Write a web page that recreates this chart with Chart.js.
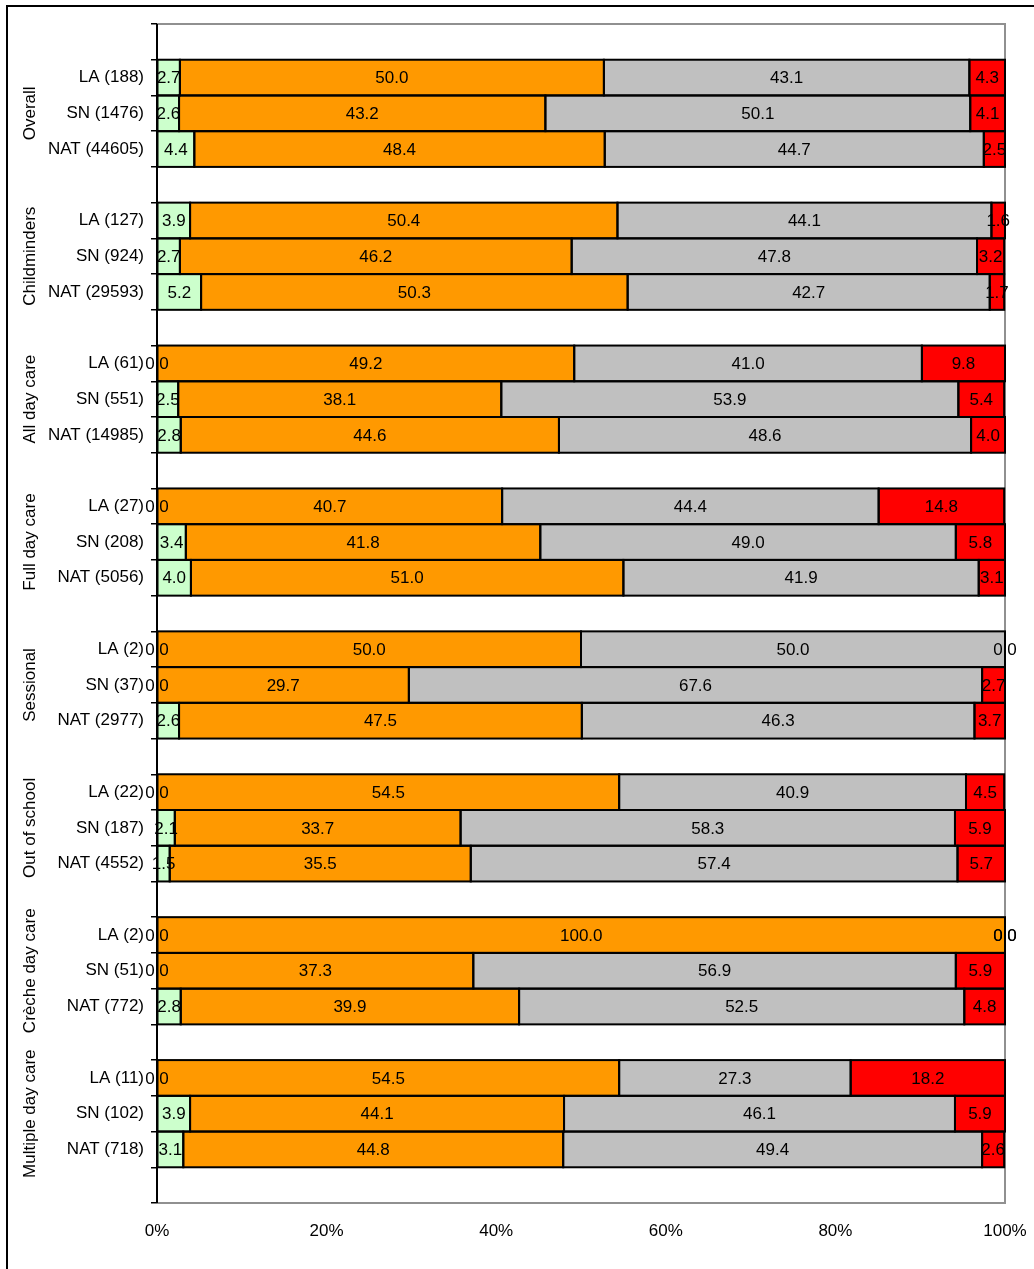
<!DOCTYPE html>
<html lang="en">
<head>
<meta charset="UTF-8">
<title>Inspection judgements by provider type</title>
<script src="https://cdn.jsdelivr.net/npm/chart.js"></script>
<style>
    body { margin: 0; background: #fff; }
    #wrap { width: 1034px; height: 1269px; }
</style>
</head>
<body>
<div id="wrap"><canvas id="chart" width="1034" height="1269"></canvas></div>
<script>
    // groups and their rows (LA / SN / NAT with sample sizes)
    const groups = ["Overall", "Childminders", "All day care", "Full day care",
        "Sessional", "Out of school", "Crèche day care", "Multiple day care"];
    const rowLabels = [
        ["LA (188)", "SN (1476)", "NAT (44605)"],
        ["LA (127)", "SN (924)", "NAT (29593)"],
        ["LA (61)", "SN (551)", "NAT (14985)"],
        ["LA (27)", "SN (208)", "NAT (5056)"],
        ["LA (2)", "SN (37)", "NAT (2977)"],
        ["LA (22)", "SN (187)", "NAT (4552)"],
        ["LA (2)", "SN (51)", "NAT (772)"],
        ["LA (11)", "SN (102)", "NAT (718)"]
    ];
    // percentages per row, in the same order as rowLabels
    const green = [2.7, 2.6, 4.4, 3.9, 2.7, 5.2, 0, 2.5, 2.8, 0, 3.4, 4.0,
        0, 0, 2.6, 0, 2.1, 1.5, 0, 0, 2.8, 0, 3.9, 3.1];
    const orange = [50.0, 43.2, 48.4, 50.4, 46.2, 50.3, 49.2, 38.1, 44.6, 40.7, 41.8, 51.0,
        50.0, 29.7, 47.5, 54.5, 33.7, 35.5, 100.0, 37.3, 39.9, 54.5, 44.1, 44.8];
    const grey = [43.1, 50.1, 44.7, 44.1, 47.8, 42.7, 41.0, 53.9, 48.6, 44.4, 49.0, 41.9,
        50.0, 67.6, 46.3, 40.9, 58.3, 57.4, 0, 56.9, 52.5, 27.3, 46.1, 49.4];
    const red = [4.3, 4.1, 2.5, 1.6, 3.2, 1.7, 9.8, 5.4, 4.0, 14.8, 5.8, 3.1,
        0, 2.7, 3.7, 4.5, 5.9, 5.7, 0, 5.9, 4.8, 18.2, 5.9, 2.6];
    const xTicks = [0, 20, 40, 60, 80, 100];

    // build category list with a blank row before each group and one at the end
    const labels = [];
    const slot = [];
    groups.forEach((g, gi) => {
        labels.push("");
        slot.push(-1);
        rowLabels[gi].forEach((r, ri) => {
            labels.push(r);
            slot.push(gi * 3 + ri);
        });
    });
    labels.push("");
    slot.push(-1);
    const spread = arr => slot.map(i => i < 0 ? null : arr[i]);

    const FONT = "'Liberation Sans', Arial, sans-serif";

    const outlinePlugin = {
        id: "outline",
        beforeDraw(chart) {
            const c = chart.ctx;
            c.save();
            c.fillStyle = "#fff";
            c.fillRect(0, 0, chart.width, chart.height);
            c.strokeStyle = "#000";
            c.lineWidth = 2;
            c.strokeRect(7, 6, chart.width + 20, chart.height + 20);
            c.restore();
        },
        beforeDatasetsDraw(chart) {
            const a = chart.chartArea;
            const c = chart.ctx;
            c.save();
            c.strokeStyle = "#909090";
            c.lineWidth = 2;
            c.beginPath();
            c.moveTo(a.left, a.top);
            c.lineTo(a.right, a.top);
            c.lineTo(a.right, a.bottom);
            c.lineTo(a.left, a.bottom);
            c.stroke();
            c.restore();
        },
        afterDatasetsDraw(chart) {
            const c = chart.ctx;
            const a = chart.chartArea;
            c.save();
            // segment outlines
            c.strokeStyle = "#000";
            c.lineWidth = 2;
            chart.data.datasets.forEach((ds, di) => {
                chart.getDatasetMeta(di).data.forEach((el, i) => {
                    const v = ds.data[i];
                    if (v === null || v === 0) return;
                    const x0 = Math.min(el.base, el.x), x1 = Math.min(Math.max(el.base, el.x), a.right);
                    c.strokeRect(x0, el.y - el.height / 2, x1 - x0, el.height);
                });
            });
            // value labels
            c.fillStyle = "#000";
            c.font = "17px " + FONT;
            c.textAlign = "center";
            c.textBaseline = "middle";
            chart.data.datasets.forEach((ds, di) => {
                chart.getDatasetMeta(di).data.forEach((el, i) => {
                    const v = ds.data[i];
                    if (v === null) return;
                    const cx = (el.base + Math.min(el.x, a.right)) / 2;
                    c.fillText(v === 0 ? "0 0" : v.toFixed(1), cx, el.y + 1);
                });
            });
            // left axis line
            c.strokeStyle = "#000";
            c.beginPath();
            c.moveTo(a.left, a.top);
            c.lineTo(a.left, a.bottom);
            c.stroke();
            // group titles, rotated
            const y = chart.scales.y;
            c.font = "17px " + FONT;
            groups.forEach((g, gi) => {
                c.save();
                c.translate(30, y.getPixelForValue(gi * 4 + 2));
                c.rotate(-Math.PI / 2);
                c.fillText(g, 0, 0);
                c.restore();
            });
            c.restore();
        }
    };

    const dataset = (label, arr, color) => ({
        label: label,
        data: spread(arr),
        backgroundColor: color,
        borderWidth: 0,
        barPercentage: 1,
        categoryPercentage: 1
    });

    new Chart(document.getElementById("chart"), {
        type: "bar",
        data: {
            labels: labels,
            datasets: [
                dataset("Outstanding", green, "#CCFFCC"),
                dataset("Good", orange, "#FF9900"),
                dataset("Satisfactory", grey, "#C0C0C0"),
                dataset("Inadequate", red, "#FF0000")
            ]
        },
        options: {
            indexAxis: "y",
            responsive: false,
            animation: false,
            layout: { padding: { left: 0, top: 24, right: 29, bottom: 0 } },
            plugins: { legend: { display: false }, tooltip: { enabled: false } },
            scales: {
                x: {
                    stacked: true,
                    min: 0,
                    max: 100,
                    afterBuildTicks: s => { s.ticks = xTicks.map(v => ({ value: v })); },
                    afterFit: s => { s.height = 66; s.paddingLeft = 0; s.paddingRight = 0; },
                    grid: { drawOnChartArea: false, drawTicks: false },
                    border: { display: false },
                    ticks: {
                        padding: 18,
                        color: "#000",
                        font: { family: FONT, size: 17 },
                        callback: v => v + "%"
                    }
                },
                y: {
                    stacked: true,
                    afterFit: s => { s.width = 157; },
                    grid: { drawOnChartArea: false, tickLength: 6, color: "#000", lineWidth: 1.5 },
                    border: { display: false },
                    ticks: {
                        padding: 7,
                        autoSkip: false,
                        color: "#000",
                        font: { family: FONT, size: 17 }
                    }
                }
            }
        },
        plugins: [outlinePlugin]
    });
</script>
</body>
</html>
